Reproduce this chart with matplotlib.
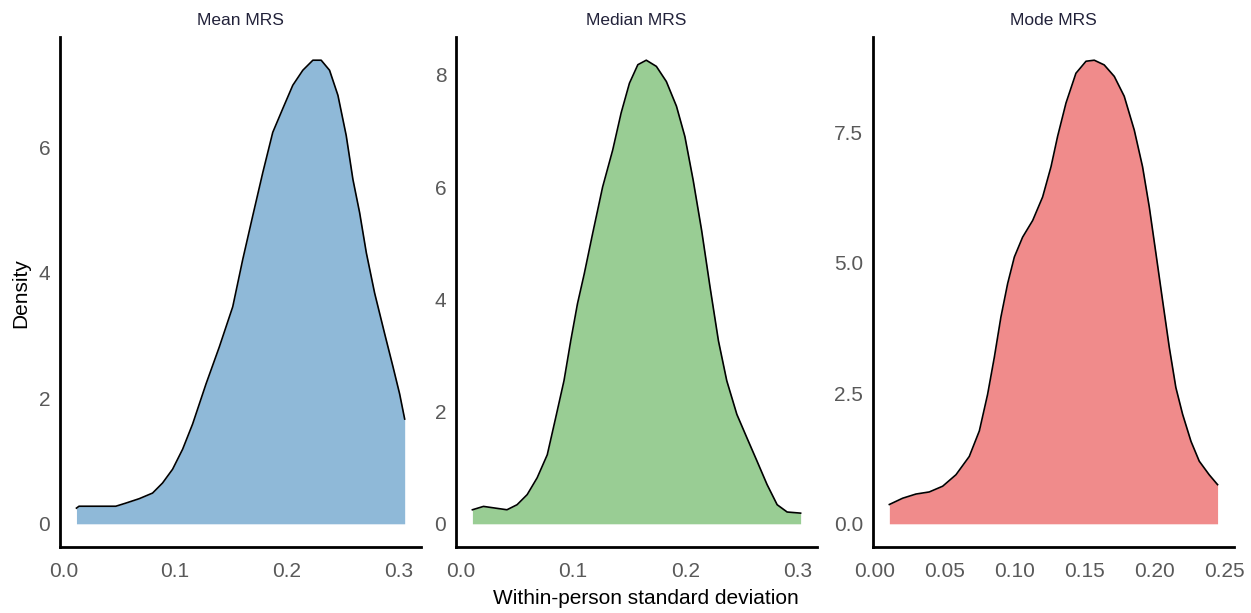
"""
Dichtekurven der personeninternen Standardabweichung
für Mean / Median / Mode MRS.
"""

import matplotlib
matplotlib.use("Agg")
import matplotlib.pyplot as plt


# ---------------------------------------------------------------------------
# Daten
# ---------------------------------------------------------------------------

mean_x = [0.0117, 0.0140, 0.0469, 0.0559, 0.0678, 0.0798, 0.0887, 0.0977,
          0.1067, 0.1156, 0.1276, 0.1395, 0.1515, 0.1604, 0.1694, 0.1784,
          0.1873, 0.1963, 0.2052, 0.2142, 0.2232, 0.2306, 0.2381, 0.2456,
          0.2530, 0.2590, 0.2650, 0.2710, 0.2784, 0.2874, 0.2949, 0.3008,
          0.3053]
mean_y = [0.25, 0.28, 0.28, 0.33, 0.40, 0.49, 0.65, 0.87,
          1.19, 1.59, 2.23, 2.82, 3.46, 4.21, 4.91, 5.60,
          6.24, 6.62, 6.99, 7.23, 7.39, 7.39, 7.23, 6.83,
          6.19, 5.49, 4.96, 4.32, 3.68, 3.03, 2.50, 2.07,
          1.67]

median_x = [0.0104, 0.0203, 0.0307, 0.0412, 0.0502, 0.0592, 0.0681, 0.0771,
            0.0846, 0.0920, 0.0980, 0.1040, 0.1100, 0.1175, 0.1264, 0.1354,
            0.1429, 0.1503, 0.1578, 0.1653, 0.1743, 0.1832, 0.1922, 0.1997,
            0.2071, 0.2146, 0.2221, 0.2296, 0.2370, 0.2460, 0.2550, 0.2639,
            0.2729, 0.2819, 0.2908, 0.3028]
median_y = [0.25, 0.31, 0.28, 0.25, 0.34, 0.52, 0.82, 1.23,
            1.89, 2.55, 3.26, 3.92, 4.45, 5.17, 6.00, 6.66,
            7.32, 7.85, 8.18, 8.26, 8.15, 7.88, 7.44, 6.90,
            6.12, 5.23, 4.22, 3.26, 2.55, 1.95, 1.53, 1.12,
            0.70, 0.34, 0.21, 0.19]

mode_x = [0.0105, 0.0200, 0.0295, 0.0390, 0.0486, 0.0581, 0.0676, 0.0748,
          0.0807, 0.0855, 0.0902, 0.0950, 0.0998, 0.1057, 0.1129, 0.1200,
          0.1260, 0.1307, 0.1367, 0.1438, 0.1510, 0.1569, 0.1640, 0.1712,
          0.1783, 0.1855, 0.1914, 0.1962, 0.2010, 0.2057, 0.2105, 0.2152,
          0.2200, 0.2260, 0.2319, 0.2390, 0.2450]
mode_y = [0.37, 0.49, 0.57, 0.61, 0.72, 0.94, 1.29, 1.78,
          2.48, 3.19, 3.96, 4.60, 5.11, 5.49, 5.81, 6.26,
          6.84, 7.42, 8.06, 8.63, 8.86, 8.88, 8.79, 8.57,
          8.19, 7.54, 6.84, 6.07, 5.17, 4.28, 3.38, 2.61,
          2.10, 1.58, 1.20, 0.94, 0.75]

titles = ["Mean MRS", "Median MRS", "Mode MRS"]
colors = ["#8FB9D8", "#99CD94", "#F08B8B"]
x_ticks = [[0.0, 0.1, 0.2, 0.3], [0.0, 0.1, 0.2, 0.3],
           [0.00, 0.05, 0.10, 0.15, 0.20, 0.25]]
y_ticks = [[0, 2, 4, 6], [0, 2, 4, 6, 8], [0.0, 2.5, 5.0, 7.5]]
x_fmt = ["{:.1f}", "{:.1f}", "{:.2f}"]
y_fmt = ["{:.0f}", "{:.0f}", "{:.1f}"]

TICK_COLOR = "#595959"

plt.rcParams["font.family"] = ["Liberation Sans", "DejaVu Sans"]

fig = plt.figure(figsize=(12.51, 6.13), dpi=100)

lefts = [0.048, 0.3645, 0.6978]
series = [(mean_x, mean_y), (median_x, median_y), (mode_x, mode_y)]

for i, (xs, ys) in enumerate(series):
    ax = fig.add_axes([lefts[i], 0.1077, 0.2886, 0.8319])
    ax.fill_between(xs, 0, ys, color=colors[i], linewidth=0)
    ax.plot(xs, ys, color="black", linewidth=1.2, solid_joinstyle="round")

    # ggplot-artige Erweiterung um 5 %
    x_span = max(xs) - min(xs)
    ax.set_xlim(min(xs) - 0.05 * x_span, max(xs) + 0.05 * x_span)
    ax.set_ylim(-0.05 * max(ys), 1.05 * max(ys))

    ax.set_xticks(x_ticks[i])
    ax.set_xticklabels([x_fmt[i].format(v) for v in x_ticks[i]])
    ax.set_yticks(y_ticks[i])
    ax.set_yticklabels([y_fmt[i].format(v) for v in y_ticks[i]])
    ax.tick_params(length=0, labelsize=15, colors=TICK_COLOR)
    ax.tick_params(axis="x", pad=11)
    ax.tick_params(axis="y", pad=7)

    for side in ["top", "right"]:
        ax.spines[side].set_visible(False)
    for side in ["left", "bottom"]:
        ax.spines[side].set_linewidth(2)
        ax.spines[side].set_color("black")

    ax.text(0.5, 1.032, titles[i], transform=ax.transAxes,
            ha="center", va="center", fontsize=12.5, color="#22223a")

fig.text(21 / 1251, 0.522, "Density", rotation=90,
         ha="center", va="center", fontsize=15)
fig.text(0.516, 0.024, "Within-person standard deviation",
         ha="center", va="center", fontsize=15)

fig.savefig("out.png", dpi=100)
